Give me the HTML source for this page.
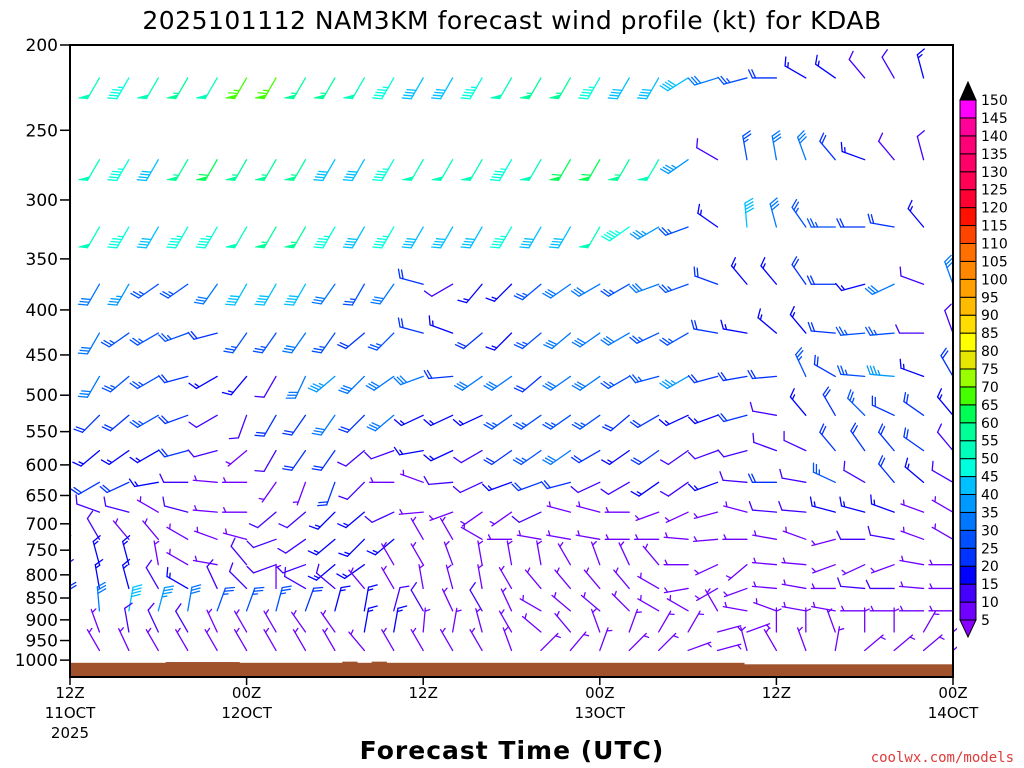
<!DOCTYPE html>
<html><head><meta charset="utf-8">
<style>
html,body{margin:0;padding:0;background:#fff;}
svg{display:block;font-family:"DejaVu Sans","Liberation Sans",sans-serif;}
</style></head>
<body>
<svg id="chart" width="1024" height="768" viewBox="0 0 1024 768" xmlns="http://www.w3.org/2000/svg">
<text x="512" y="29" font-size="25" text-anchor="middle" fill="#000" letter-spacing="0.5">2025101112 NAM3KM forecast wind profile (kt) for KDAB</text>
<g id="ground"></g>
<g id="barbs"></g>
<g id="axes"></g>
<g id="cbar"></g>
<text x="512" y="759" font-size="25" font-weight="bold" text-anchor="middle" letter-spacing="1">Forecast Time (UTC)</text>
<text x="1014" y="762" font-size="14" text-anchor="end" fill="#e03a3a" font-family="DejaVu Sans Mono, Liberation Mono, monospace">coolwx.com/models</text>
</svg>
<script>
// ---- data ----
const hours = [0,2,4,6,8,10,12,14,16,18,20,22,24,26,28,30,32,34,36,38,40,42,44,46,48,50,52,54,56,58,60];
const levels = [218,270,322,374,425,476,527,578,628,679,729,779,829,879,929,975];
const pressureTicks = [200,250,300,350,400,450,500,550,600,650,700,750,800,850,900,950,1000];
const timeTicks = [0,12,24,36,48,60];
const timeLabels1 = ["12Z","00Z","12Z","00Z","12Z","00Z"];
const timeLabels2 = ["11OCT","12OCT","","13OCT","","14OCT"];
const cbarValues = [5,10,15,20,25,30,35,40,45,50,55,60,65,70,75,80,85,90,95,100,105,110,115,120,125,130,135,140,145,150];
const cbarColors = ["#7000ff","#4400ff","#0000ff","#0033ff","#0050ff","#0077ff","#0099ff","#00c0ff","#00ffdd","#00ffbb","#00ff99","#00ff55","#44ff00","#99ff00","#e6e600","#ffff00","#ffdd00","#ffbb00","#ffa000","#ff8800","#ff7000","#ff4400","#ff1100","#ff0033","#ff0055","#ff0066","#ff0077","#ff0099","#ff00ff"];
const N=null;
const dir1=[N,210,210,210,210,210,210,210,210,210,210,210,210,210,210,210,210,210,210,210,210,238,253,255,270,300,305,320,330,345,N];
const spd1=[N,50,45,50,55,50,65,65,55,55,50,45,40,40,45,50,55,55,45,40,40,40,30,25,20,15,15,10,10,15,N];
const dir2=[N,210,210,210,210,210,210,210,210,210,210,210,210,210,210,210,210,210,210,210,210,235,300,350,350,340,320,290,320,345,N];
const spd2=[N,50,45,40,55,60,55,55,55,40,40,45,50,50,50,45,50,60,60,55,50,35,10,25,30,30,20,15,10,10,N];
const dir3=[N,210,210,210,210,210,210,210,210,210,210,210,210,210,210,210,210,210,210,235,240,250,305,355,345,325,270,270,280,320,N];
const spd3=[N,50,45,40,45,45,50,55,55,45,40,45,40,40,40,45,40,40,50,45,35,25,15,40,30,25,25,20,20,15,N];
const dir4=[N,210,210,235,235,215,210,210,210,215,210,215,285,240,220,225,230,235,240,240,250,250,290,320,320,325,270,255,245,290,340];
const spd4=[N,30,35,25,25,30,40,40,40,30,25,30,20,10,15,15,25,30,30,25,30,25,20,15,15,20,20,15,30,10,30];
const dir5=[210,210,235,240,250,255,215,215,215,215,230,225,285,290,230,225,230,230,235,240,245,240,280,280,310,320,275,265,265,270,340];
const spd5=[25,30,25,25,25,20,25,25,30,25,20,25,20,15,20,15,25,30,30,30,25,25,20,15,15,15,20,25,25,10,10];
const dir6=[210,210,230,240,255,240,220,210,205,230,225,235,250,265,235,235,230,235,235,240,255,240,255,260,265,335,300,275,275,290,330];
const spd6=[25,30,25,25,20,15,15,10,30,35,30,30,30,20,30,30,20,30,30,25,25,35,20,20,20,25,20,25,35,15,20];
const dir7=[220,225,230,240,250,240,200,210,215,215,225,230,245,245,245,235,235,235,235,230,240,245,250,255,280,320,330,315,295,305,320];
const spd7=[15,20,20,25,20,10,10,20,20,30,20,30,15,15,15,25,25,25,25,20,20,15,15,20,10,15,20,25,20,20,15];
const dir8=[225,230,235,240,255,255,230,210,215,215,230,250,260,245,240,235,235,235,240,235,235,235,250,255,290,295,320,325,320,305,320];
const spd8=[15,15,15,15,20,10,5,10,20,20,10,10,15,15,10,20,25,30,20,15,20,10,10,10,10,10,20,20,20,20,10];
const dir9=[240,240,245,260,270,275,270,215,200,200,225,270,290,265,245,250,250,255,245,240,235,235,250,275,270,280,295,300,320,310,300];
const spd9=[15,20,20,15,10,5,5,5,5,20,10,5,5,10,10,15,20,20,10,10,15,10,15,10,20,10,25,10,20,15,10];
const dir10=[290,290,285,300,285,275,270,230,230,225,230,245,265,250,235,235,245,285,285,270,250,245,255,285,275,275,285,285,290,290,300];
const spd10=[10,10,10,5,10,5,5,10,10,15,15,10,5,5,5,5,10,5,5,5,5,5,5,5,10,10,15,15,15,5,5];
const dir11=[330,330,320,320,300,290,285,250,235,230,225,230,330,330,300,270,280,280,280,270,270,275,265,270,280,290,255,270,280,290,300];
const spd11=[10,10,5,5,5,5,5,10,10,15,15,15,5,5,5,5,5,5,5,5,5,5,5,5,5,5,5,10,10,5,5];
const dir12=[345,345,345,350,300,280,320,250,250,230,235,330,330,340,350,350,350,330,340,335,320,270,245,230,275,275,250,245,250,280,270];
const spd12=[10,15,15,5,5,5,10,10,10,15,15,5,5,5,5,5,5,5,5,5,5,5,5,5,5,5,5,5,5,5,5];
const dir13=[350,350,345,330,300,335,315,360,300,310,320,330,350,345,350,330,320,320,320,320,300,260,240,250,275,280,270,275,270,275,270];
const spd13=[10,15,15,10,15,10,10,5,10,10,5,5,5,5,5,5,5,5,5,5,5,5,5,5,5,5,5,10,10,5,5];
const dir14=[355,355,10,15,10,20,20,15,20,15,10,15,330,335,330,335,300,310,310,315,300,300,330,280,290,280,280,270,270,270,270];
const spd14=[20,30,40,35,30,25,25,25,20,15,15,10,10,5,10,5,5,5,5,5,5,5,5,5,5,5,5,5,5,5,5];
const dir15=[330,340,350,335,330,335,330,330,325,325,10,10,5,10,345,330,310,320,340,20,30,30,75,70,0,0,340,0,0,30,50];
const spd15=[5,5,10,10,10,5,5,5,5,5,15,15,5,5,5,5,5,5,5,5,5,5,5,5,5,5,5,5,5,5,5];
const dir16=[330,330,335,330,330,330,330,330,330,330,320,330,330,330,330,340,45,40,20,45,45,70,75,345,330,340,10,50,50,50,50];
const spd16=[5,5,5,5,5,5,5,5,5,5,5,5,5,5,5,5,5,5,5,5,5,5,5,5,5,5,5,5,5,5,5];
const dirRows=[dir1,dir2,dir3,dir4,dir5,dir6,dir7,dir8,dir9,dir10,dir11,dir12,dir13,dir14,dir15,dir16];
const spdRows=[spd1,spd2,spd3,spd4,spd5,spd6,spd7,spd8,spd9,spd10,spd11,spd12,spd13,spd14,spd15,spd16];
const groundHours = [0,6.5,11.5,18.5,19.5,20.5,21.5,45.8,60];
const groundPres = [1007,1005,1007,1004,1007,1004,1007,1011,1011];

// ---- scales ----
const X0=70,X1=953,Y0=45,Y1=677;
function xs(h){return X0+h*(X1-X0)/60;}
function ys(p){return Y0+382.2*Math.log(p/200);}
const NS="http://www.w3.org/2000/svg";
function mk(tag,attrs,parent){const e=document.createElementNS(NS,tag);for(const k in attrs)e.setAttribute(k,attrs[k]);parent.appendChild(e);return e;}
function colorFor(s){let i=Math.floor(s/5)-1;if(i<0)i=0;if(i>=cbarColors.length)i=cbarColors.length-1;return cbarColors[i];}

// ground
const gG=document.getElementById('ground');
for(let i=0;i<groundHours.length-1;i++){
  const r=mk('rect',{x:xs(groundHours[i]),y:ys(groundPres[i]),width:xs(groundHours[i+1])-xs(groundHours[i])+0.5,height:Y1-ys(groundPres[i]),fill:'#a0522d'},gG);
  
  
}

// barbs
const bG=document.getElementById('barbs');
const clip=mk('clipPath',{id:'pc'},mk('defs',{},bG));
mk('rect',{x:X0,y:Y0,width:X1-X0+4,height:Y1-Y0},clip);
bG.setAttribute('clip-path','url(#pc)');
const L=24,F=9,SP=3.2;
for(let li=0;li<levels.length;li++){
  for(let hi=0;hi<hours.length;hi++){
    const d=dirRows[li][hi],s=spdRows[li][hi];
    if(d===null||s===null)continue;
    const ax=xs(hours[hi]),ay=ys(levels[li]);
    const b=d*Math.PI/180,ux=Math.sin(b),uy=-Math.cos(b);
    const fb=(d+65)*Math.PI/180,fx=Math.sin(fb),fy=-Math.cos(fb);
    const col=colorFor(s);
    const g=mk('g',{stroke:col,fill:col,'stroke-width':1.3,'stroke-linecap':'round'},bG);
    
    
    const tx=ax+L*ux,ty=ay+L*uy;
    mk('line',{x1:ax,y1:ay,x2:tx,y2:ty},g);
    let rem=Math.round(s/5)*5,pos=0;
    while(rem>=50){
      const px=tx-pos*ux,py=ty-pos*uy,qx=tx-(pos+4.5)*ux,qy=ty-(pos+4.5)*uy;
      mk('polygon',{points:`${px},${py} ${px+F*fx},${py+F*fy} ${qx},${qy}`,'stroke-width':0.8},g);
      pos+=6;rem-=50;
    }
    let first=true;
    while(rem>=10){
      const px=tx-pos*ux,py=ty-pos*uy;
      mk('line',{x1:px,y1:py,x2:px+F*fx,y2:py+F*fy},g);
      pos+=SP;rem-=10;first=false;
    }
    if(rem>=5){
      if(first&&pos===0)pos=SP;
      const px=tx-pos*ux,py=ty-pos*uy;
      mk('line',{x1:px,y1:py,x2:px+F*0.55*fx,y2:py+F*0.55*fy},g);
    }
  }
}

// axes
const aG=document.getElementById('axes');
const fr=mk('rect',{x:X0,y:Y0,width:X1-X0,height:Y1-Y0,fill:'none',stroke:'#000','stroke-width':2},aG);


pressureTicks.forEach(p=>{
  const y=ys(p);
  mk('line',{x1:X0-10,y1:y,x2:X0,y2:y,stroke:'#000','stroke-width':1.5},aG);
  const t=mk('text',{x:X0-12,y:y+6,'font-size':17,'text-anchor':'end',fill:'#000'},aG);
  t.textContent=p;
  
  
});
timeTicks.forEach((h,i)=>{
  const x=xs(h);
  mk('line',{x1:x,y1:Y1,x2:x,y2:Y1+8,stroke:'#000','stroke-width':1.5},aG);
  const t=mk('text',{x:x,y:698,'font-size':15,'text-anchor':'middle'},aG);
  t.textContent=timeLabels1[i];
  
  
  if(timeLabels2[i]){
    const t2=mk('text',{x:x,y:718,'font-size':15,'text-anchor':'middle'},aG);
    t2.textContent=timeLabels2[i];
    
    
  }
});
const yr=mk('text',{x:xs(0),y:738,'font-size':15,'text-anchor':'middle'},aG);
yr.textContent='2025';



// colorbar
const cG=document.getElementById('cbar');
const CX=960,CW=16,CY5=620,CSTEP=17.93;
function cy(v){return CY5-(v-5)/5*CSTEP;}
for(let i=0;i<cbarColors.length;i++){
  const r=mk('rect',{x:CX,y:cy(cbarValues[i+1]),width:CW,height:CSTEP,fill:cbarColors[i],stroke:'#000','stroke-width':1},cG);
  
  
}
const tt=mk('polygon',{points:`${CX},${cy(150)} ${CX+CW},${cy(150)} ${CX+CW/2},${cy(150)-18}`,fill:'#000',stroke:'#000'},cG);


const bt=mk('polygon',{points:`${CX},${cy(5)} ${CX+CW},${cy(5)} ${CX+CW/2},${cy(5)+17}`,fill:'#8800ff',stroke:'#000'},cG);


cbarValues.forEach(v=>{
  const t=mk('text',{x:981,y:cy(v)+5,'font-size':14},cG);
  t.textContent=v;
  
  
});
</script>
</body></html>
